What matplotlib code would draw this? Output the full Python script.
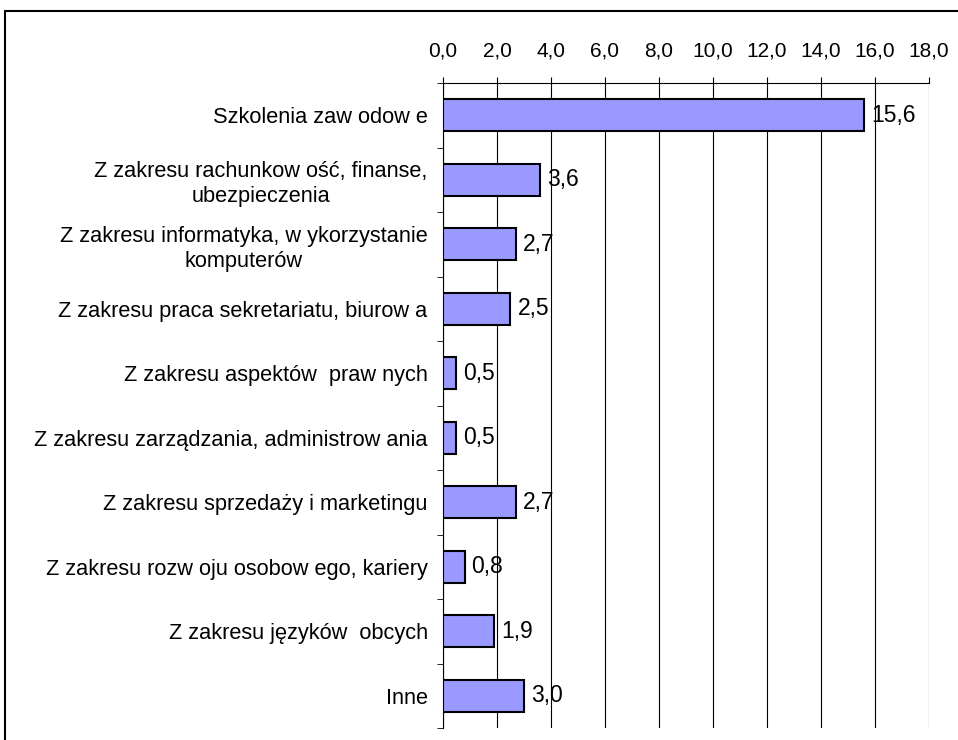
import numpy as np
import matplotlib
matplotlib.use("Agg")
import matplotlib.pyplot as plt
from matplotlib.patches import Rectangle
from matplotlib.ticker import FuncFormatter

plt.rcParams['font.family'] = ['Liberation Sans', 'DejaVu Sans']

categories = [
    "Szkolenia zaw odow e",
    "Z zakresu rachunkow ość, finanse,\nubezpieczenia",
    "Z zakresu informatyka, w ykorzystanie\nkomputerów",
    "Z zakresu praca sekretariatu, biurow a",
    "Z zakresu aspektów  praw nych",
    "Z zakresu zarządzania, administrow ania",
    "Z zakresu sprzedaży i marketingu",
    "Z zakresu rozw oju osobow ego, kariery",
    "Z zakresu języków  obcych",
    "Inne",
]
values = [15.6, 3.6, 2.7, 2.5, 0.5, 0.5, 2.7, 0.8, 1.9, 3.0]
xticks = [0, 2, 4, 6, 8, 10, 12, 14, 16, 18]

fig = plt.figure(figsize=(9.58, 7.40), dpi=100)
ax = fig.add_axes([0.4624, 0.0162, 0.5073, 0.8716])

y = np.arange(len(categories))
ax.barh(y, values, height=0.5, color='#9999FF', edgecolor='black', linewidth=1.5, zorder=3)

for yi, v in zip(y, values):
    ax.annotate(f"{v:.1f}".replace('.', ','), (v, yi), xytext=(5, 0),
                textcoords='offset points', va='center', ha='left', fontsize=16.5, zorder=4)

ax.set_ylim(len(categories) - 0.5, -0.5)
ax.set_xlim(0, 18)
ax.set_xticks(xticks)
ax.xaxis.set_major_formatter(FuncFormatter(lambda v, p: f"{v:.1f}".replace('.', ',')))
ax.xaxis.tick_top()
ax.tick_params(axis='x', which='major', direction='out', length=4, pad=12, labelsize=15, color='black')
ax.grid(axis='x', color='black', linewidth=0.8, zorder=0)

ax.set_yticks(y)
ax.set_yticklabels(categories, fontsize=15.7, ha='right', multialignment='center', linespacing=1.25)
ax.set_yticks(np.arange(len(categories) + 1) - 0.5, minor=True)
ax.tick_params(axis='y', which='major', length=0, pad=11)
ax.tick_params(axis='y', which='minor', length=4, direction='out', color='black')

for s in ['right', 'bottom']:
    ax.spines[s].set_visible(False)
ax.spines['left'].set_color('black')
ax.spines['top'].set_color('black')

# outer chart border
fig.patches.append(Rectangle((5 / 958, -0.1), 1.2, 1 - 11 / 740 + 0.1, transform=fig.transFigure,
                             fill=False, edgecolor='black', linewidth=1.5))

fig.savefig("out.png", dpi=100)
